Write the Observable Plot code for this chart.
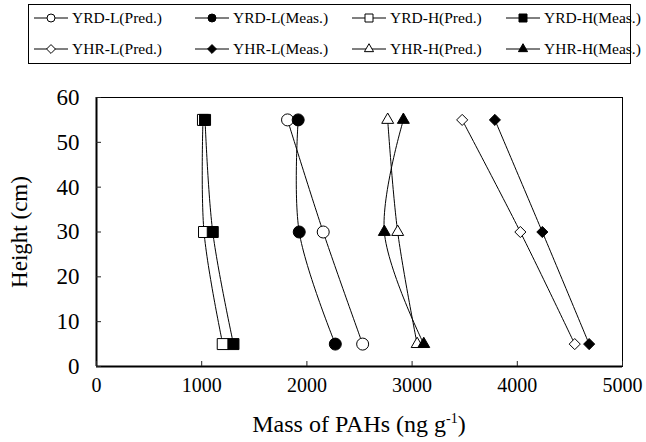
<!DOCTYPE html>
<html><head><meta charset="utf-8">
<script src="https://cdn.jsdelivr.net/npm/d3@7"></script>
<script src="https://cdn.jsdelivr.net/npm/@observablehq/plot@0.6"></script>
<style>
body{margin:0;background:#fff;font-family:"Liberation Serif","Times New Roman",serif;}
#wrap{position:relative;width:646px;height:442px;overflow:hidden}
#legend{position:absolute;left:28px;top:4px;width:603px;height:60px;border:1px solid #000;box-sizing:border-box}
.item{position:absolute;display:flex;align-items:center;font-size:15.5px;line-height:16px;white-space:nowrap}
.item svg{margin-right:4px}
#chart{position:absolute;left:0;top:70px}
#xtitle{position:absolute;left:96px;width:526px;top:411px;text-align:center;font-size:24px;line-height:26px}
#xtitle sup{font-size:14px;line-height:0}
</style></head>
<body><div id="wrap"><div id="legend"></div><div id="chart"></div>
<div id="xtitle">Mass of PAHs (ng g<sup>-1</sup>)</div></div>
<script>
// ---- data ----
const heights = [55, 30, 5];
const seriesNames = ["YRD-L(Pred.)", "YRD-L(Meas.)", "YRD-H(Pred.)", "YRD-H(Meas.)",
                     "YHR-L(Pred.)", "YHR-L(Meas.)", "YHR-H(Pred.)", "YHR-H(Meas.)"];
const yrdLPred = [1816, 2155, 2530];
const yrdLMeas = [1917, 1927, 2270];
const yrdHPred = [1012, 1022, 1200];
const yrdHMeas = [1032, 1105, 1302];
const yhrLPred = [3476, 4029, 4546];
const yhrLMeas = [3787, 4238, 4683];
const yhrHPred = [2768, 2863, 3048];
const yhrHMeas = [2917, 2736, 3111];
const seriesValues = [yrdLPred, yrdLMeas, yrdHPred, yrdHMeas, yhrLPred, yhrLMeas, yhrHPred, yhrHMeas];
const xTicks = [0, 1000, 2000, 3000, 4000, 5000];
const yTicks = [0, 10, 20, 30, 40, 50, 60];

// ---- styles ----
const seriesSymbol = ["circle", "circle", "square", "square", "diamond2", "diamond2", "triangle2", "triangle2"];
const seriesFill = ["white", "black", "white", "black", "white", "black", "white", "black"];
const seriesR = [6, 6, 6.2, 6.2, 5, 5, 5.7, 5.7];

const series = seriesNames.map((name, i) => ({
  name, fill: seriesFill[i], symbol: seriesSymbol[i], r: seriesR[i],
  data: heights.map((h, j) => ({height: h, mass: seriesValues[i][j]}))
}));

// ---- legend ----
const symMap = {circle: d3.symbolCircle, square: d3.symbolSquare, diamond2: d3.symbolDiamond2, triangle2: d3.symbolTriangle2};
const legend = document.getElementById("legend");
const colX = [5, 166, 323, 477];
const rowY = [13, 44];
series.forEach((s, i) => {
  const div = document.createElement("div");
  div.className = "item";
  const col = i % 4, row = Math.floor(i / 4);
  div.style.left = colX[col] + "px";
  div.style.top = (rowY[row] - 8) + "px";
  const size = s.symbol === "circle" ? Math.PI * 16 : (s.symbol === "square" ? 64 : (s.symbol === "diamond2" ? 50 : 60));
  const path = d3.symbol(symMap[s.symbol], size)();
  div.innerHTML = `<svg width="34" height="16"><line x1="0" x2="34" y1="8" y2="8" stroke="black" stroke-width="1"/>` +
    `<path d="${path}" transform="translate(17,8)" fill="${s.fill}" stroke="black" stroke-width="1"/></svg><span>${s.name}</span>`;
  legend.appendChild(div);
});

// ---- chart ----
const W = 646, H = 346, mL = 96, mR = 24, mT = 27, mB = 50, tick = 5;
const innerW = W - mL - mR, innerH = H - mT - mB;
const xPerPx = 5000 / innerW, yPerPx = 60 / innerH;
const marks = [
  Plot.frame({stroke: "black", strokeWidth: 1}),
  Plot.ruleX([0], {stroke: "black", strokeWidth: 2}),
  Plot.ruleY([0], {stroke: "black", strokeWidth: 2}),
  Plot.ruleX(xTicks, {x: d => d, y1: 0, y2: tick * yPerPx, stroke: "#222", strokeWidth: 1}),
  Plot.ruleY(yTicks, {y: d => d, x1: 0, x2: tick * xPerPx, stroke: "#222", strokeWidth: 1}),
  Plot.axisX({ticks: xTicks, tickSize: 0, tickPadding: 11, tickFormat: d3.format("d"), label: null, fontSize: 20}),
  Plot.axisY({ticks: yTicks, tickSize: 0, tickPadding: 17, tickFormat: d3.format("d"), label: "Height (cm)", labelAnchor: "center", labelArrow: "none", labelOffset: 86, fontSize: 23})
];
series.forEach(s => marks.push(Plot.line(s.data, {x: "mass", y: "height", curve: "catmull-rom", stroke: "black", strokeWidth: 1})));
series.forEach(s => marks.push(Plot.dot(s.data, {x: "mass", y: "height", symbol: s.symbol, r: s.r, fill: s.fill, stroke: "black", strokeWidth: 1})));

const chart = Plot.plot({
  width: W, height: H,
  marginLeft: mL, marginRight: mR, marginTop: mT, marginBottom: mB,
  style: {fontFamily: "'Liberation Serif', 'Times New Roman', serif", fontSize: "20px", color: "black", background: "white"},
  x: {domain: [0, 5000]},
  y: {domain: [0, 60]},
  marks
});
document.getElementById("chart").appendChild(chart);
</script></body></html>
